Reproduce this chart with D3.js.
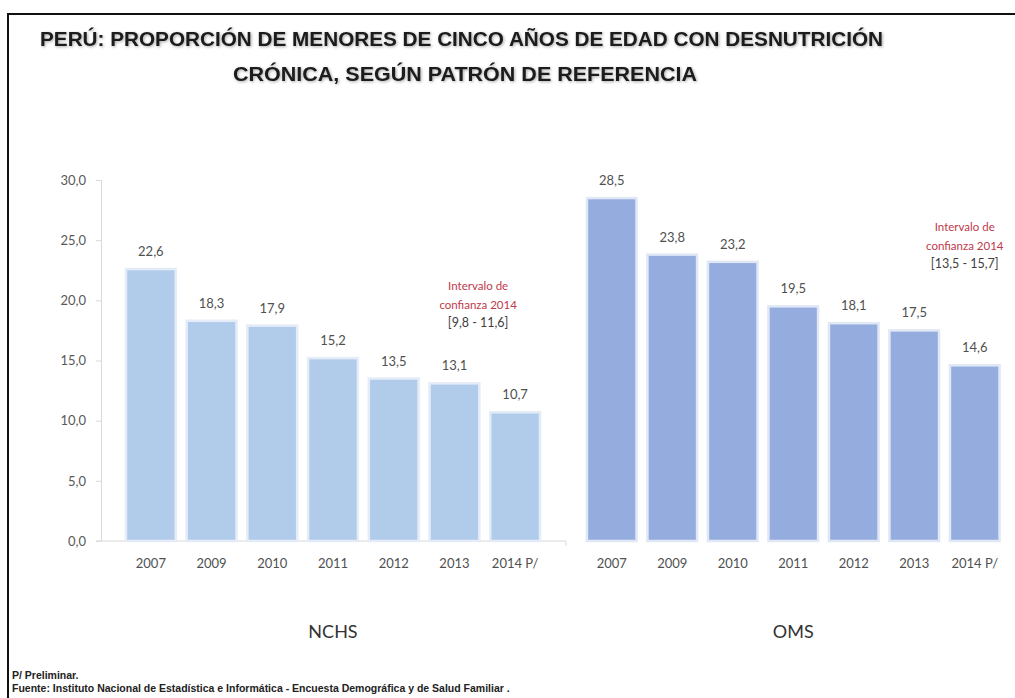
<!DOCTYPE html>
<html>
<head>
<meta charset="utf-8">
<script src="https://cdn.jsdelivr.net/npm/d3@7"></script>
<style>
  html, body { margin: 0; padding: 0; background: #fff; }
  svg { display: block; }
</style>
</head>
<body>
<svg id="chart" width="1015" height="698"></svg>
<script>
// Chronic malnutrition in children under five, Peru, by reference standard
const years = ["2007", "2009", "2010", "2011", "2012", "2013", "2014 P/"];
const nchsValues = [22.6, 18.3, 17.9, 15.2, 13.5, 13.1, 10.7];
const omsValues = [28.5, 23.8, 23.2, 19.5, 18.1, 17.5, 14.6];
const yTicks = [0, 5, 10, 15, 20, 25, 30];
const groupNames = ["NCHS", "OMS"];
const nchsInterval = ["Intervalo de", "confianza 2014", "[9,8 - 11,6]"];
const omsInterval = ["Intervalo de", "confianza 2014", "[13,5 - 15,7]"];
const titleLines = [
  "PERÚ: PROPORCIÓN DE MENORES DE CINCO AÑOS DE EDAD CON DESNUTRICIÓN",
  "CRÓNICA,  SEGÚN PATRÓN DE REFERENCIA"
];
const footLines = [
  "P/ Preliminar.",
  "Fuente: Instituto Nacional de Estadística e Informática - Encuesta Demográfica y de Salud Familiar ."
];

const svg = d3.select("#chart");
const fmt = v => d3.format(".1f")(v).replace(".", ",");
const bodyFont = "Lato, 'Open Sans', sans-serif";
const narrowFont = "'Liberation Sans Narrow', 'Arial Narrow', 'Liberation Sans', Arial, sans-serif";

// soft shadow for the heading
const defs = svg.append("defs");
const shadow = defs.append("filter").attr("id", "titleShadow")
  .attr("x", "-5%").attr("y", "-40%").attr("width", "110%").attr("height", "180%");
shadow.append("feGaussianBlur").attr("in", "SourceAlpha").attr("stdDeviation", 1.6).attr("result", "b");
shadow.append("feOffset").attr("in", "b").attr("dx", 1).attr("dy", 1).attr("result", "o");
shadow.append("feComponentTransfer").attr("in", "o").attr("result", "s")
  .append("feFuncA").attr("type", "linear").attr("slope", 0.35);
const merge = shadow.append("feMerge");
merge.append("feMergeNode").attr("in", "s");
merge.append("feMergeNode").attr("in", "SourceGraphic");

// frame
svg.append("path")
  .attr("d", "M8,698 L8,14 L1015,14")
  .attr("fill", "none").attr("stroke", "#111").attr("stroke-width", 2);

// heading
const titleG = svg.append("g").attr("filter", "url(#titleShadow)");
titleG.append("text")
  .attr("x", 40).attr("y", 46)
  .attr("textLength", 843).attr("lengthAdjust", "spacingAndGlyphs")
  .style("font-family", narrowFont).style("font-weight", "bold").style("font-size", "19.5px")
  .attr("fill", "#1a1a1a").text(titleLines[0]);
titleG.append("text")
  .attr("x", 233).attr("y", 81)
  .attr("textLength", 464).attr("lengthAdjust", "spacingAndGlyphs")
  .style("font-family", narrowFont).style("font-weight", "bold").style("font-size", "19.5px")
  .attr("fill", "#1a1a1a").text(titleLines[1]);

// shared value scale
const y = d3.scaleLinear().domain([0, 30]).range([541, 180]);

// y axis
const yAxisG = svg.append("g").attr("transform", "translate(101,0)")
  .call(d3.axisLeft(y).tickValues(yTicks).tickFormat(fmt).tickSize(5).tickPadding(10));
yAxisG.select(".domain").attr("stroke", "#d9d9d9");
yAxisG.selectAll(".tick line").attr("stroke", "#d9d9d9");
yAxisG.selectAll(".tick text")
  .attr("fill", "#595959").style("font-family", bodyFont).style("font-size", "13px");

// baseline of the first panel
svg.append("line").attr("x1", 96).attr("x2", 566).attr("y1", y(0)).attr("y2", y(0))
  .attr("stroke", "#d9d9d9").attr("stroke-width", 1.2);
svg.append("line").attr("x1", 566).attr("x2", 566).attr("y1", y(0)).attr("y2", y(0) + 5)
  .attr("stroke", "#d9d9d9");

function panel(values, range, color, glow, groupName, interval, intervalPos) {
  const x = d3.scaleBand().domain(years).range(range).paddingInner(0.18).paddingOuter(0.09);
  const g = svg.append("g");
  const rows = years.map((yr, i) => ({ yr, v: values[i] }));

  g.selectAll("rect.bar").data(rows).join("rect")
    .attr("class", "bar")
    .attr("x", d => x(d.yr))
    .attr("width", x.bandwidth())
    .attr("y", d => y(d.v))
    .attr("height", d => y(0) - y(d.v))
    .attr("fill", color)
    .attr("stroke", glow).attr("stroke-width", 2.5);

  g.selectAll("text.val").data(rows).join("text")
    .attr("class", "val")
    .attr("x", d => x(d.yr) + x.bandwidth() / 2)
    .attr("y", d => y(d.v) - 13)
    .attr("text-anchor", "middle")
    .attr("fill", "#505050")
    .style("font-family", bodyFont).style("font-size", "13px")
    .text(d => fmt(d.v));

  const xAxisG = g.append("g").attr("transform", `translate(0,${y(0)})`)
    .call(d3.axisBottom(x).tickSize(0).tickPadding(18));
  xAxisG.select(".domain").remove();
  xAxisG.selectAll(".tick text")
    .attr("fill", "#505050").style("font-family", bodyFont).style("font-size", "13px");

  const mid = (range[0] + range[1]) / 2;
  g.append("text")
    .attr("x", mid).attr("y", 638)
    .attr("text-anchor", "middle").attr("fill", "#333")
    .style("font-family", bodyFont).style("font-size", "18px")
    .text(groupName);

  const last = years[years.length - 1];
  const cx = x(last) + x.bandwidth() / 2 + intervalPos[0];
  g.selectAll("text.ci").data(interval).join("text")
    .attr("class", "ci")
    .attr("x", cx)
    .attr("y", (d, i) => intervalPos[1] + i * 18.5)
    .attr("text-anchor", "middle")
    .attr("fill", (d, i) => i < 2 ? "#c0394b" : "#404040")
    .style("font-family", bodyFont)
    .style("font-size", (d, i) => i < 2 ? "11.5px" : "12.5px")
    .text(d => d);
}

panel(nchsValues, [120.5, 545.5], "#b1cbea", "#e4ecf7", groupNames[0], nchsInterval, [-37, 290]);
panel(omsValues, [581.5, 1005], "#94acde", "#e0e8f6", groupNames[1], omsInterval, [-10, 231]);

// notes
svg.selectAll("text.foot").data(footLines).join("text")
  .attr("class", "foot")
  .attr("x", 12)
  .attr("y", (d, i) => 679 + i * 13)
  .attr("fill", "#222")
  .style("font-family", narrowFont).style("font-weight", "bold").style("font-size", "10.5px")
  .text(d => d);
</script>
</body>
</html>
